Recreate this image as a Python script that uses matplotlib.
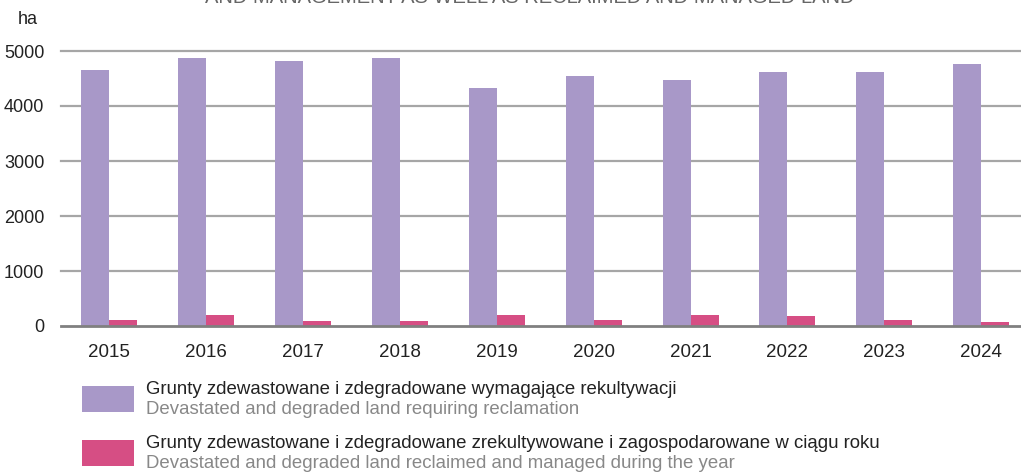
import matplotlib.pyplot as plt
from matplotlib.patches import Rectangle
import numpy as np

plt.rcParams['font.family'] = ['Liberation Sans', 'DejaVu Sans']

years = ['2015', '2016', '2017', '2018', '2019', '2020', '2021', '2022', '2023', '2024']
requiring = [4660, 4880, 4820, 4880, 4330, 4550, 4470, 4620, 4620, 4770]
reclaimed = [105, 200, 90, 90, 200, 110, 200, 180, 110, 70]

tick_vals = [0, 1000, 2000, 3000, 4000, 5000]

label_pl_1 = 'Grunty zdewastowane i zdegradowane wymagające rekultywacji'
label_en_1 = 'Devastated and degraded land requiring reclamation'
label_pl_2 = 'Grunty zdewastowane i zdegradowane zrekultywowane i zagospodarowane w ciągu roku'
label_en_2 = 'Devastated and degraded land reclaimed and managed during the year'

purple = '#a898c8'
pink = '#d64e84'

W, H = 1021, 472
fig = plt.figure(figsize=(W / 100, H / 100), dpi=100)
ax = fig.add_axes([61 / W, 1 - 326 / H, (W - 61) / W, 275 / H])

x = np.arange(len(years))
bw = 0.289
ax.bar(x - bw / 2, requiring, bw, color=purple, zorder=3)
ax.bar(x + bw / 2, reclaimed, bw, color=pink, zorder=3)

ax.set_ylim(0, 5000)
ax.set_xlim(-0.5, (W - 109) / 96.9)

for v in tick_vals:
    if v == 0:
        ax.axhline(v, color='#808080', lw=2, clip_on=False, zorder=4)
    else:
        ax.axhline(v, color='#a6a6a6', lw=1.6, clip_on=False, zorder=1)

for s in ax.spines.values():
    s.set_visible(False)
ax.set_yticks(tick_vals)
ax.set_yticklabels([str(v) for v in tick_vals], fontsize=13, color='#222222')
ax.set_xticks(x)
ax.set_xticklabels(years, fontsize=13.5, color='#222222')
ax.tick_params(length=0)
ax.tick_params(axis='y', pad=12)
ax.tick_params(axis='x', pad=13)

fig.text(18 / W, 1 - 19 / H, 'ha', fontsize=13, color='#222222', va='center', ha='left')

# title is cut off at the top edge in the source image
fig.text(530 / W, 1 - 3 / H, 'AND MANAGEMENT AS WELL AS RECLAIMED AND MANAGED LAND',
         fontsize=14.5, color='#666666', ha='center', va='baseline')

for y0, c, pl, en in [(386, purple, label_pl_1, label_en_1), (440, pink, label_pl_2, label_en_2)]:
    fig.add_artist(Rectangle((82 / W, 1 - (y0 + 26) / H), 52 / W, 26 / H,
                             transform=fig.transFigure, color=c, lw=0))
    fig.text(146 / W, 1 - (y0 + 3) / H, pl, fontsize=13.4, color='#222222', va='center')
    fig.text(146 / W, 1 - (y0 + 23) / H, en, fontsize=13.4, color='#888888', va='center')

fig.savefig('out.png', dpi=100)
